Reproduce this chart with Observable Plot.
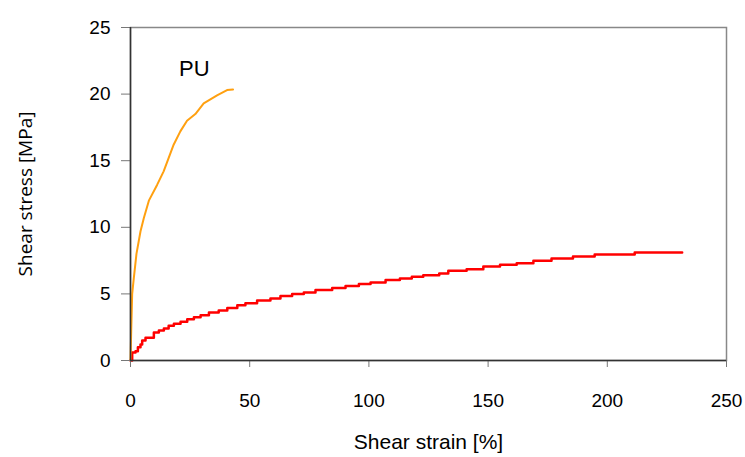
<!DOCTYPE html>
<html>
<head>
<meta charset="utf-8">
<script src="https://cdn.jsdelivr.net/npm/d3@7"></script>
<script src="https://cdn.jsdelivr.net/npm/@observablehq/plot@0.6"></script>
<style>
  html, body { margin: 0; padding: 0; background: #fff; }
  #chart { width: 745px; height: 457px; }
</style>
</head>
<body>
<div id="chart"></div>
<script>
// Red curve (staircase) – shear strain [%] vs shear stress [MPa]
const redStrain = [0, 0.7, 2.1, 3.1, 4.2, 4.9, 6.3, 9.8, 11.9, 14, 16, 18.2, 21, 23.8, 26.6, 29.4, 32.9, 37, 40.6, 44.8, 48.2, 53.1, 58.7, 62.9, 67.8, 72.7, 77.6, 84.6, 90.2, 95.8, 100.7, 107, 113, 118, 122.8, 129.5, 133.3, 141, 148, 155, 162, 169, 176.6, 185.6, 194.7, 211.5, 231.4];
const redStress = [0, 0.6, 0.7, 1.0, 1.2, 1.5, 1.7, 2.1, 2.25, 2.4, 2.6, 2.75, 2.9, 3.1, 3.25, 3.4, 3.6, 3.75, 3.95, 4.15, 4.3, 4.5, 4.65, 4.85, 5.0, 5.1, 5.3, 5.45, 5.6, 5.75, 5.85, 6.05, 6.15, 6.28, 6.4, 6.53, 6.73, 6.85, 7.05, 7.18, 7.3, 7.48, 7.65, 7.8, 7.95, 8.1, 8.1];

// Orange curve (PU)
const puStrain = [0, 0.3, 0.7, 1.4, 2.5, 4.2, 5.6, 7.7, 11.2, 13.9, 18.1, 20.9, 23.7, 27.2, 30.7, 36.3, 40.5, 43];
const puStress = [0, 2.2, 5.0, 6.2, 8.0, 9.7, 10.7, 12.0, 13.2, 14.2, 16.2, 17.2, 18.0, 18.5, 19.3, 19.9, 20.3, 20.35];

const xTicks = [0, 50, 100, 150, 200, 250];
const yTicks = [0, 5, 10, 15, 20, 25];
const labels = [{strain: 26.8, stress: 21.9, text: "PU"}];

const red = redStrain.map((x, i) => ({strain: x, stress: redStress[i]}));
const pu = puStrain.map((x, i) => ({strain: x, stress: puStress[i]}));

const font = "'Liberation Sans', Arial, sans-serif";
const humanist = "'Open Sans', 'Noto Sans', sans-serif";

const chart = Plot.plot({
  width: 745,
  height: 457,
  marginLeft: 130,
  marginRight: 19,
  marginTop: 27,
  marginBottom: 97,
  style: {fontFamily: font, fontSize: "19px", color: "#000", background: "#fff"},
  x: {domain: [0, 250], ticks: xTicks},
  y: {domain: [0, 25], ticks: yTicks},
  marks: [
    Plot.frame({stroke: "#888", strokeWidth: 1.5}),
    Plot.line(red, {x: "strain", y: "stress", stroke: "#ff0000", strokeWidth: 2.5, curve: "step-after"}),
    Plot.line(pu, {x: "strain", y: "stress", stroke: "#ffa010", strokeWidth: 2, curve: "linear"}),
    Plot.text(labels, {x: "strain", y: "stress", text: "text", fontSize: 22, fill: "#000", fontFamily: font}),
    Plot.axisX(xTicks, {tickSize: 7, tickPadding: 26, stroke: "#777", fontSize: 19, label: null}),
    Plot.axisY(yTicks, {tickSize: 9, tickPadding: 11, stroke: "#777", fontSize: 19, label: null}),
    Plot.ruleY([0], {stroke: "#333", strokeWidth: 1.5}),
    Plot.ruleX([0], {stroke: "#333", strokeWidth: 1.5}),
    Plot.text(["Shear strain [%]"], {frameAnchor: "bottom", dy: 88, fontSize: 21, fill: "#000"}),
    Plot.text(["Shear stress [MPa]"], {frameAnchor: "left", textAnchor: "middle", dx: -105, rotate: -90, fontSize: 19, fill: "#000", fontFamily: humanist})
  ]
});

document.getElementById("chart").appendChild(chart);
</script>
</body>
</html>
